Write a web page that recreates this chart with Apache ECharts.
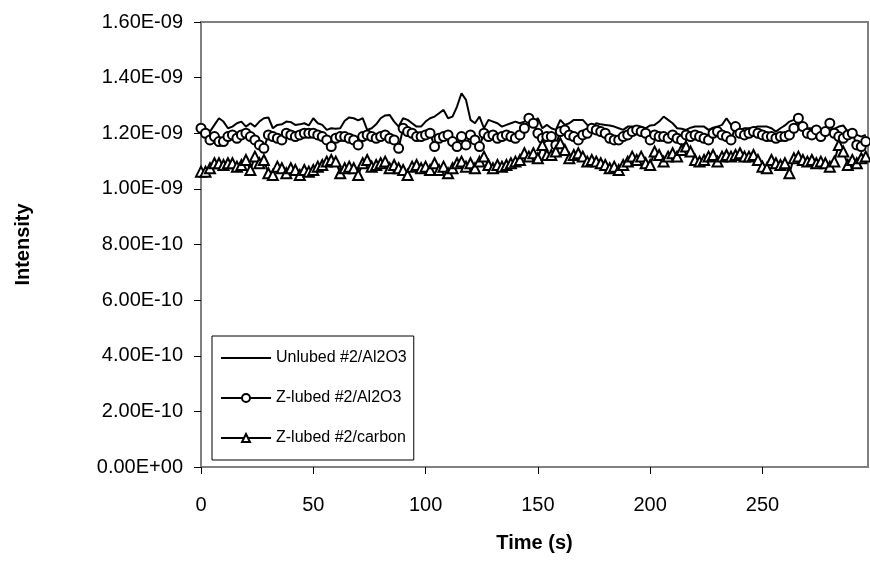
<!DOCTYPE html>
<html>
<head>
<meta charset="utf-8">
<script src="https://cdn.jsdelivr.net/npm/echarts@6/dist/echarts.min.js"></script>
<style>
  html, body { margin: 0; padding: 0; background: #fff; }
  #chart { width: 870px; height: 586px; }
</style>
</head>
<body>
<div id="chart"></div>
<script>
// time in seconds
const times = [
  0, 2, 4, 6, 8, 10, 12, 14, 16, 18, 20, 22, 24, 26, 28, 30, 32, 34, 36, 38, 40, 42, 44, 46, 48,
  50, 52, 54, 56, 58, 60, 62, 64, 66, 68, 70, 72, 74, 76, 78, 80, 82, 84, 86, 88, 90, 92, 94, 96,
  98, 100, 102, 104, 106, 108, 110, 112, 114, 116, 118, 120, 122, 124, 126, 128, 130, 132, 134, 136, 138, 140, 142, 144, 146,
  148, 150, 152, 154, 156, 158, 160, 162, 164, 166, 168, 170, 172, 174, 176, 178, 180, 182, 184, 186, 188, 190, 192, 194,
  196, 198, 200, 202, 204, 206, 208, 210, 212, 214, 216, 218, 220, 222, 224, 226, 228, 230, 232, 234, 236, 238, 240, 242,
  244, 246, 248, 250, 252, 254, 256, 258, 260, 262, 264, 266, 268, 270, 272, 274, 276, 278, 280, 282, 284, 286, 288, 290, 292, 294, 296
]

// intensity values, in units of 1E-09
const unlubedAl2O3 = [
  1.230, 1.218, 1.206, 1.230, 1.254, 1.242, 1.218, 1.224, 1.236, 1.242, 1.224, 1.236, 1.224, 1.242, 1.254, 1.257, 1.218, 1.230, 1.232, 1.242, 1.240, 1.230, 1.232, 1.236, 1.228,
  1.254, 1.236, 1.230, 1.212, 1.218, 1.216, 1.218, 1.245, 1.257, 1.254, 1.246, 1.254, 1.212, 1.218, 1.232, 1.254, 1.264, 1.266, 1.242, 1.224, 1.254, 1.248, 1.236, 1.224,
  1.224, 1.242, 1.254, 1.260, 1.272, 1.284, 1.254, 1.260, 1.296, 1.344, 1.320, 1.248, 1.236, 1.260, 1.218, 1.248, 1.242, 1.236, 1.224, 1.230, 1.236, 1.242, 1.236, 1.242, 1.254,
  1.236, 1.254, 1.218, 1.230, 1.218, 1.212, 1.248, 1.230, 1.236, 1.248, 1.248, 1.248, 1.230, 1.218, 1.236, 1.232, 1.230, 1.228, 1.224, 1.218, 1.212, 1.224, 1.224, 1.224,
  1.224, 1.218, 1.228, 1.230, 1.242, 1.260, 1.248, 1.236, 1.218, 1.216, 1.212, 1.220, 1.224, 1.224, 1.224, 1.212, 1.220, 1.224, 1.230, 1.254, 1.230, 1.216, 1.212, 1.218,
  1.218, 1.220, 1.224, 1.224, 1.224, 1.218, 1.206, 1.218, 1.228, 1.242, 1.248, 1.236, 1.220, 1.218, 1.218, 1.216, 1.212, 1.212, 1.212, 1.216, 1.224, 1.228, 1.206, 1.200, 1.194, 1.188, 1.194
]
const zlubedAl2O3 = [
  1.218, 1.200, 1.176, 1.188, 1.170, 1.170, 1.188, 1.194, 1.182, 1.194, 1.200, 1.188, 1.176, 1.158, 1.146, 1.194, 1.188, 1.182, 1.176, 1.200, 1.194, 1.188, 1.194, 1.200, 1.200,
  1.200, 1.194, 1.188, 1.176, 1.152, 1.182, 1.188, 1.188, 1.182, 1.176, 1.158, 1.188, 1.194, 1.188, 1.182, 1.188, 1.194, 1.182, 1.176, 1.146, 1.218, 1.206, 1.200, 1.188,
  1.188, 1.194, 1.200, 1.152, 1.182, 1.188, 1.194, 1.170, 1.152, 1.188, 1.158, 1.194, 1.176, 1.152, 1.200, 1.188, 1.194, 1.182, 1.188, 1.194, 1.188, 1.182, 1.194, 1.218, 1.254,
  1.236, 1.200, 1.182, 1.188, 1.188, 1.158, 1.206, 1.212, 1.194, 1.188, 1.176, 1.194, 1.200, 1.218, 1.212, 1.206, 1.200, 1.182, 1.176, 1.176, 1.188, 1.194, 1.206, 1.212,
  1.206, 1.200, 1.176, 1.194, 1.188, 1.188, 1.182, 1.194, 1.182, 1.176, 1.194, 1.188, 1.194, 1.188, 1.182, 1.176, 1.200, 1.206, 1.194, 1.188, 1.176, 1.224, 1.200, 1.194,
  1.200, 1.206, 1.200, 1.194, 1.188, 1.188, 1.182, 1.188, 1.188, 1.194, 1.218, 1.254, 1.224, 1.200, 1.194, 1.212, 1.188, 1.206, 1.236, 1.200, 1.188, 1.182, 1.194, 1.200, 1.158, 1.152, 1.170
]
const zlubedCarbon = [
  1.062, 1.062, 1.074, 1.092, 1.092, 1.086, 1.092, 1.092, 1.080, 1.086, 1.104, 1.068, 1.116, 1.092, 1.104, 1.056, 1.050, 1.080, 1.074, 1.056, 1.074, 1.068, 1.050, 1.068, 1.062,
  1.068, 1.080, 1.086, 1.098, 1.104, 1.098, 1.056, 1.074, 1.080, 1.074, 1.050, 1.092, 1.104, 1.080, 1.086, 1.092, 1.098, 1.074, 1.086, 1.074, 1.068, 1.050, 1.080, 1.086,
  1.074, 1.080, 1.068, 1.092, 1.068, 1.080, 1.056, 1.074, 1.092, 1.098, 1.080, 1.092, 1.074, 1.098, 1.116, 1.086, 1.074, 1.086, 1.080, 1.086, 1.092, 1.098, 1.104, 1.128, 1.116,
  1.128, 1.110, 1.158, 1.122, 1.122, 1.134, 1.164, 1.140, 1.110, 1.122, 1.128, 1.116, 1.098, 1.104, 1.098, 1.092, 1.086, 1.074, 1.080, 1.068, 1.086, 1.098, 1.116, 1.104,
  1.116, 1.092, 1.086, 1.134, 1.122, 1.098, 1.116, 1.128, 1.116, 1.140, 1.152, 1.134, 1.104, 1.098, 1.104, 1.116, 1.122, 1.098, 1.116, 1.122, 1.116, 1.122, 1.128, 1.116,
  1.116, 1.122, 1.104, 1.080, 1.074, 1.104, 1.092, 1.086, 1.092, 1.056, 1.110, 1.116, 1.104, 1.098, 1.104, 1.092, 1.098, 1.092, 1.080, 1.098, 1.158, 1.134, 1.086, 1.104, 1.092, 1.110, 1.116
]
const seriesNames = ['Unlubed #2/Al2O3', 'Z-lubed #2/Al2O3', 'Z-lubed #2/carbon']
const SCALE = 1e-9

const FONT = 'Liberation Sans, Arial, sans-serif'

// Excel style labels: 1.60E-09, 0.00E+00
function sciLabel (v) {
  const s = (v * SCALE).toExponential(2)
  const parts = s.split('e')
  const sign = parts[1][0] === '-' ? '-' : '+'
  let exp = parts[1].replace('-', '').replace('+', '')
  if (exp.length < 2) exp = '0' + exp
  return parts[0] + 'E' + sign + exp
}

function pairs (vals) {
  return times.map(function (t, i) { return [t, vals[i]] })
}

const chart = echarts.init(document.getElementById('chart'), null, { renderer: 'canvas' })
const option = {
  animation: false,
  backgroundColor: '#fff',
  grid: {
    left: 201,
    right: 2,
    top: 22,
    bottom: 119,
    show: true,
    borderColor: '#808080',
    borderWidth: 2
  },
  legend: {
    orient: 'vertical',
    left: 212,
    top: 336,
    padding: [14, 7, 14, 8],
    itemWidth: 50,
    itemHeight: 10,
    itemGap: 24,
    borderColor: '#000',
    borderWidth: 1,
    backgroundColor: '#fff',
    textStyle: { fontFamily: FONT, fontSize: 16, color: '#000' },
    data: [
      { name: seriesNames[0], itemStyle: { opacity: 0 } }, // plain line, no marker
      seriesNames[1],
      seriesNames[2]
    ]
  },
  xAxis: {
    type: 'value',
    min: 0,
    max: 297,
    interval: 50,
    name: 'Time (s)',
    nameLocation: 'middle',
    nameGap: 66,
    nameTextStyle: { fontFamily: FONT, fontSize: 20, fontWeight: 'bold', color: '#000' },
    axisLine: { onZero: false, lineStyle: { color: '#808080', width: 2 } },
    axisTick: { inside: false, length: 7, lineStyle: { color: '#000' } },
    axisLabel: { margin: 28, showMaxLabel: false, fontFamily: FONT, fontSize: 20, color: '#000' },
    splitLine: { show: false }
  },
  yAxis: {
    type: 'value',
    min: 0,
    max: 1.6,
    interval: 0.2,
    name: 'Intensity',
    nameLocation: 'middle',
    nameGap: 168,
    nameTextStyle: { fontFamily: FONT, fontSize: 20, fontWeight: 'bold', color: '#000' },
    axisLine: { show: true, lineStyle: { color: '#808080', width: 2 } },
    axisTick: { show: true, length: 7, lineStyle: { color: '#000' } },
    axisLabel: { margin: 18, fontFamily: FONT, fontSize: 20, color: '#000', formatter: sciLabel },
    splitLine: { show: false }
  },
  series: [
    {
      name: seriesNames[0],
      type: 'line',
      symbol: 'none',
      lineStyle: { color: '#000', width: 2 },
      itemStyle: { color: '#000' },
      data: pairs(unlubedAl2O3)
    },
    {
      name: seriesNames[1],
      type: 'line',
      symbol: 'circle',
      symbolSize: 9,
      lineStyle: { color: '#000', width: 2 },
      itemStyle: { color: '#fff', borderColor: '#000', borderWidth: 2 },
      data: pairs(zlubedAl2O3)
    },
    {
      name: seriesNames[2],
      type: 'line',
      symbol: 'triangle',
      symbolSize: 10,
      lineStyle: { color: '#000', width: 2 },
      itemStyle: { color: '#fff', borderColor: '#000', borderWidth: 2 },
      data: pairs(zlubedCarbon)
    }
  ]
}
chart.setOption(option)
window.addEventListener('resize', function () { chart.resize() })
</script>
</body>
</html>
